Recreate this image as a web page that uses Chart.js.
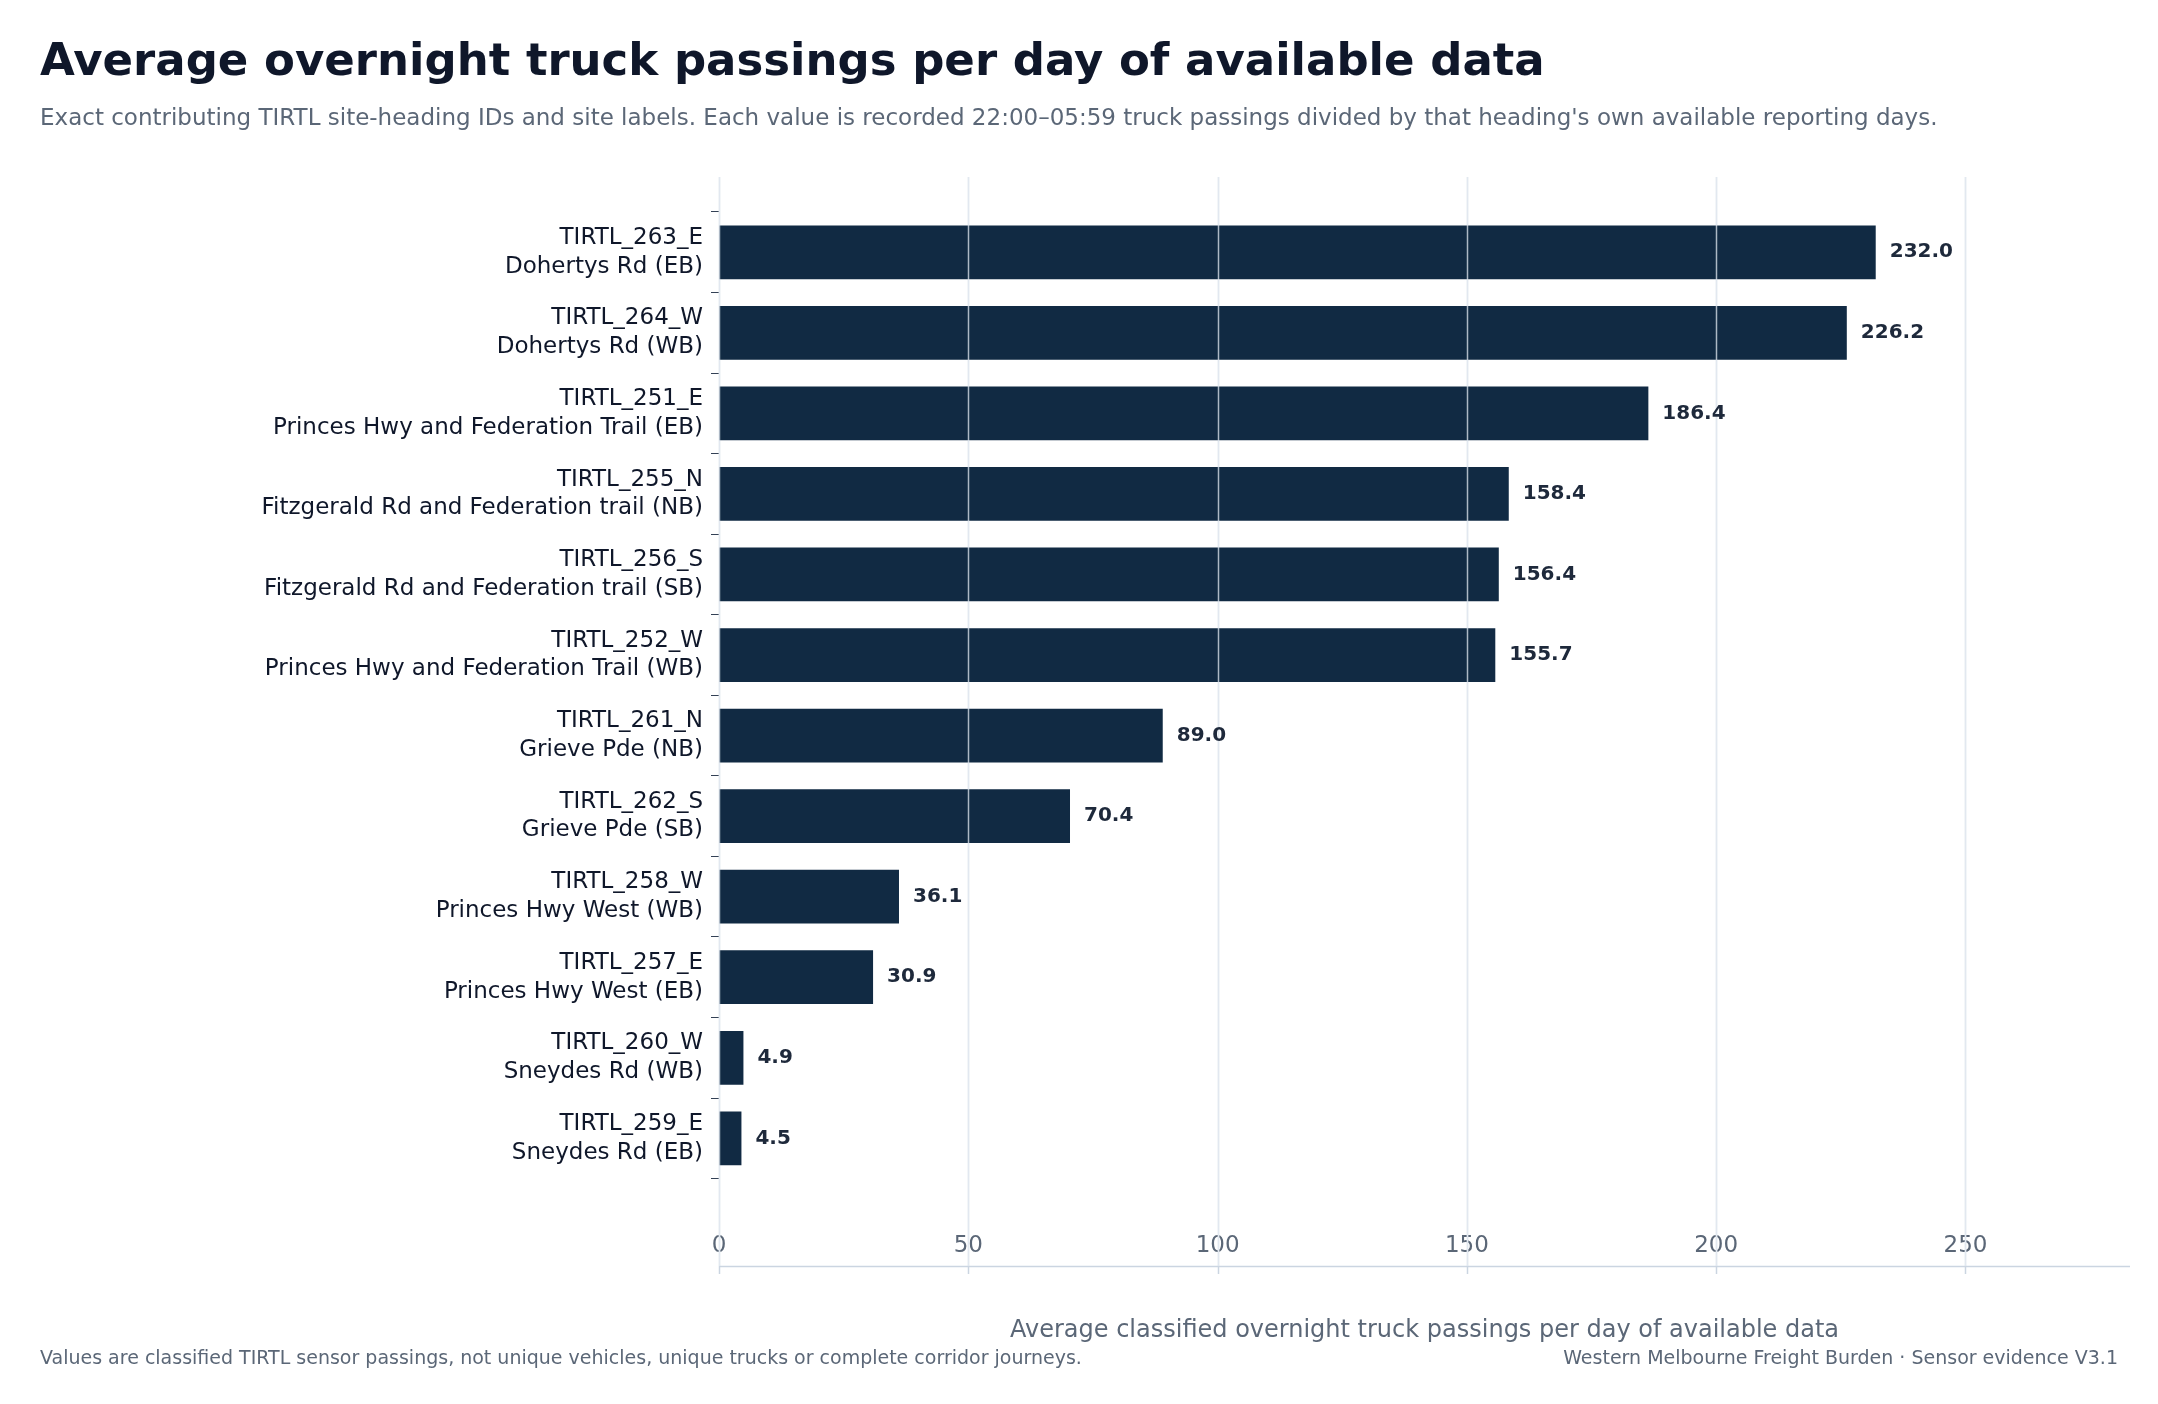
<!DOCTYPE html>
<html><head><meta charset="utf-8">
<script src="https://cdn.jsdelivr.net/npm/chart.js@4"></script>
<style>
html,body{margin:0;padding:0;background:#fff;font-family:"DejaVu Sans",sans-serif;}
#wrap{position:relative;width:2158px;height:1404px;}
canvas{position:absolute;left:0;top:0;}
.t{position:absolute;left:40px;top:33px;font-size:45px;font-weight:bold;color:#0f172a;}
.s{position:absolute;left:40px;top:104px;font-size:23px;color:#5b6777;}
.f1{position:absolute;left:40px;top:1346px;font-size:19px;color:#5b6777;}
.f2{position:absolute;right:40px;top:1346px;font-size:19px;color:#5b6777;}
</style></head><body>
<div id="wrap">
<canvas id="c" width="2158" height="1404"></canvas>
<div class="t">Average overnight truck passings per day of available data</div>
<div class="s">Exact contributing TIRTL site-heading IDs and site labels. Each value is recorded 22:00–05:59 truck passings divided by that heading's own available reporting days.</div>
<div class="f1">Values are classified TIRTL sensor passings, not unique vehicles, unique trucks or complete corridor journeys.</div>
<div class="f2">Western Melbourne Freight Burden · Sensor evidence V3.1</div>
</div>
<script>
const siteIds=["TIRTL_263_E","TIRTL_264_W","TIRTL_251_E","TIRTL_255_N","TIRTL_256_S","TIRTL_252_W","TIRTL_261_N","TIRTL_262_S","TIRTL_258_W","TIRTL_257_E","TIRTL_260_W","TIRTL_259_E"];
const siteNames=["Dohertys Rd (EB)","Dohertys Rd (WB)","Princes Hwy and Federation Trail (EB)","Fitzgerald Rd and Federation trail (NB)","Fitzgerald Rd and Federation trail (SB)","Princes Hwy and Federation Trail (WB)","Grieve Pde (NB)","Grieve Pde (SB)","Princes Hwy West (WB)","Princes Hwy West (EB)","Sneydes Rd (WB)","Sneydes Rd (EB)"];
const values=[232.0,226.2,186.4,158.4,156.4,155.7,89.0,70.4,36.1,30.9,4.9,4.5];
const xTicks=[0,50,100,150,200,250];
const labels=siteIds.map((id,i)=>[id,siteNames[i]]);
const GRID_TOP=177, AXIS_Y=1266;
const gridPlugin={id:'grid',
beforeDatasetsDraw(ch){const ctx=ch.ctx,x=ch.scales.x;ctx.save();ctx.strokeStyle='#e2e8f0';ctx.lineWidth=1.5;
xTicks.forEach(v=>{const px=Math.round(x.getPixelForValue(v))+0.5;ctx.beginPath();ctx.moveTo(px,GRID_TOP);ctx.lineTo(px,AXIS_Y);ctx.stroke();});
ctx.strokeStyle='#cbd5e1';ctx.beginPath();ctx.moveTo(x.left,AXIS_Y+0.5);ctx.lineTo(x.right,AXIS_Y+0.5);ctx.stroke();
xTicks.forEach(v=>{const px=Math.round(x.getPixelForValue(v))+0.5;ctx.beginPath();ctx.moveTo(px,AXIS_Y);ctx.lineTo(px,AXIS_Y+8);ctx.stroke();});
ctx.restore();},
afterDatasetsDraw(ch){const ctx=ch.ctx,x=ch.scales.x;ctx.save();ctx.strokeStyle='rgba(226,232,240,0.75)';ctx.lineWidth=1.5;
xTicks.forEach(v=>{const px=Math.round(x.getPixelForValue(v))+0.5;ctx.beginPath();ctx.moveTo(px,GRID_TOP);ctx.lineTo(px,AXIS_Y);ctx.stroke();});
const m=ch.getDatasetMeta(0);ctx.font='bold 20px "DejaVu Sans"';ctx.fillStyle='#1e293b';ctx.textBaseline='middle';
m.data.forEach((b,i)=>{ctx.fillText(values[i].toFixed(1),b.x+14,b.y);});ctx.restore();}};
new Chart(document.getElementById('c'),{type:'bar',
data:{labels,datasets:[{data:values,backgroundColor:'#112a43',categoryPercentage:0.667,barPercentage:1}]},
options:{indexAxis:'y',responsive:false,animation:false,
layout:{padding:{top:212,right:28,left:0,bottom:55}},
plugins:{legend:{display:false},tooltip:{enabled:false}},
scales:{
x:{min:0,max:283,afterBuildTicks(s){s.ticks=xTicks.map(v=>({value:v}));},
grid:{display:false},border:{display:false},
ticks:{color:'#5b6777',font:{size:23,family:'DejaVu Sans'},padding:46},
title:{display:true,text:'Average classified overnight truck passings per day of available data',color:'#5b6777',font:{size:24,family:'DejaVu Sans'},padding:{top:10,bottom:4}}},
y:{afterFit(s){s.width=719;},grid:{display:true,drawOnChartArea:false,drawTicks:true,tickLength:8,color:'#334155'},border:{display:false},
ticks:{color:'#0f172a',font:{size:23,family:'DejaVu Sans',lineHeight:1.25},padding:8}}
}},plugins:[gridPlugin]});
</script></body></html>
